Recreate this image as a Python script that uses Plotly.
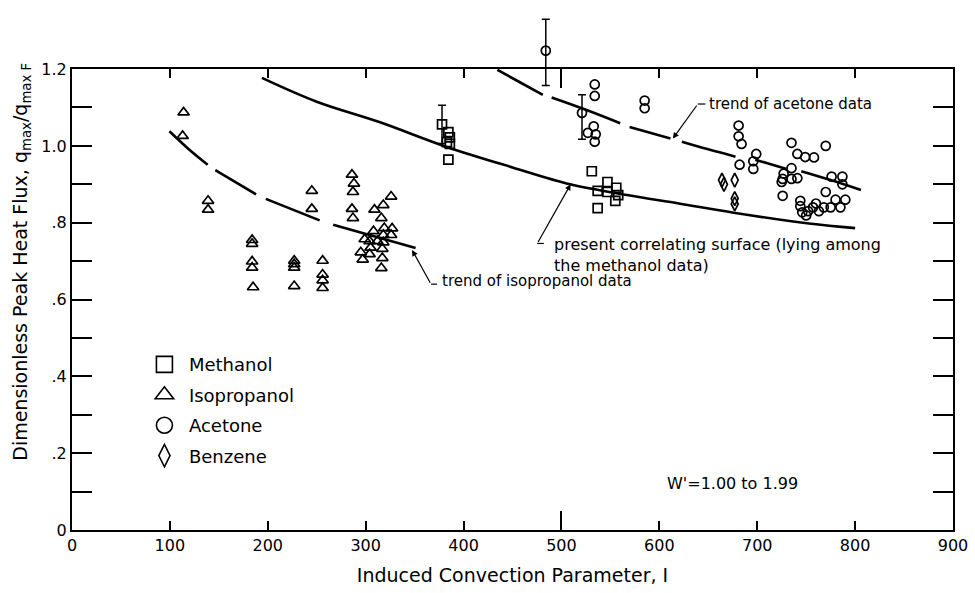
import plotly.graph_objects as go

# ---------------- data ----------------
meth_x = [378, 384.5, 386, 386, 384.5, 383, 531, 547, 537, 556, 547, 558, 555, 537]
meth_y = [1.056, 1.036, 1.022, 1.005, 0.964, 1.010, 0.934, 0.906, 0.883, 0.891, 0.880, 0.872, 0.857, 0.838]

iso_x = [114, 113, 139, 139, 184, 184, 184, 184, 185, 227, 227, 227, 227, 256, 256, 256, 256,
         245, 245, 286, 288, 287, 286, 287,
         326, 318, 309, 316, 327, 308, 319, 318, 326, 299, 304, 312, 318, 305, 317, 295, 304, 297, 317, 316]
iso_y = [1.087, 1.026, 0.857, 0.834, 0.755, 0.745, 0.699, 0.683, 0.632, 0.701, 0.692, 0.683, 0.635,
         0.701, 0.665, 0.650, 0.630,
         0.883, 0.836, 0.925, 0.902, 0.880, 0.836, 0.812,
         0.868, 0.846, 0.834, 0.812, 0.785, 0.778, 0.786, 0.768, 0.768, 0.757, 0.752, 0.752, 0.749,
         0.735, 0.732, 0.723, 0.718, 0.704, 0.708, 0.682]

ace_x = [484, 534, 534, 521, 533, 527, 535, 534, 585, 585, 681, 681, 684, 682, 699, 696, 696,
         735, 741, 749, 735, 727, 726, 735, 741, 725, 726, 744, 744, 746, 750,
         758, 770, 776, 787, 787, 770, 780, 790, 757, 763, 768, 775, 785, 752, 760]
ace_y = [1.248, 1.160, 1.130, 1.086, 1.051, 1.034, 1.030, 1.011, 1.118, 1.098, 1.053, 1.025, 1.005,
         0.951, 0.979, 0.960, 0.940,
         1.008, 0.979, 0.971, 0.942, 0.928, 0.914, 0.914, 0.916, 0.906, 0.870, 0.857, 0.843, 0.827, 0.819,
         0.970, 1.000, 0.920, 0.920, 0.900, 0.880, 0.860, 0.860, 0.840, 0.830, 0.840, 0.840, 0.840,
         0.830, 0.850]

benz_x = [664, 666, 677, 677, 677]
benz_y = [0.911, 0.900, 0.911, 0.863, 0.849]

# points carrying error bars
err_x = [378, 484, 521]
err_y = [1.056, 1.248, 1.086]
err_up = [0.050, 0.082, 0.047]
err_down = [0.050, 0.091, 0.069]

# present correlating surface (solid)
corr_x = [194, 250, 314, 382, 450, 509, 567, 620, 676, 753, 800]
corr_y = [1.177, 1.115, 1.062, 0.998, 0.944, 0.900, 0.872, 0.850, 0.826, 0.798, 0.786]

# trend of acetone data (broken line)
acet_x = [434.6, 458, 481, None, 490, 525, 560, None, 569.6, 611.4, None,
          623, 650, 677.8, None, 698, 730, None, 745, 775, 806]
acet_y = [1.198, 1.165, 1.133, None, 1.126, 1.094, 1.059, None, 1.049, 1.019, None,
          1.011, 0.991, 0.972, None, 0.964, 0.940, None, 0.934, 0.911, 0.885]

# trend of isopropanol data (broken line)
isot_x = [99.5, 119, 138.6, None, 146.4, 188, None, 198, 253, None, 266.8, 351]
isot_y = [1.038, 0.992, 0.951, None, 0.937, 0.874, None, 0.862, 0.806, None, 0.795, 0.734]

x_ticks = [0, 100, 200, 300, 400, 500, 600, 700, 800, 900]
y_ticks = [0, 0.2, 0.4, 0.6, 0.8, 1.0, 1.2]
y_ticktext = ["0", ".2", ".4", ".6", ".8", "1.0", "1.2"]
y_minor = [0.1, 0.3, 0.5, 0.7, 0.9, 1.1]

FONT = "DejaVu Sans"
BLACK = "black"

# geometry (pixels): frame top 61, bottom 530; headroom up to 7 for the point above the frame
TOP_EXTRA = 7
PLOT_TOP = 61
PLOT_BOT = 530
H_ALL = PLOT_BOT - TOP_EXTRA
H_MAIN = PLOT_BOT - PLOT_TOP
Y_MAX = 1.2
Y2_MAX = Y_MAX * H_ALL / H_MAIN


def py_paper(px):
    return (PLOT_BOT - px) / H_ALL


fig = go.Figure()

line_style = dict(color=BLACK, width=2.6)
fig.add_trace(go.Scatter(x=corr_x, y=corr_y, mode="lines", line=dict(shape="spline", **line_style),
                         showlegend=False, hoverinfo="skip"))
fig.add_trace(go.Scatter(x=acet_x, y=acet_y, mode="lines", line=dict(shape="spline", **line_style),
                         connectgaps=False, showlegend=False, hoverinfo="skip"))
# (x2 / x3 are overlaid copies of the x axis carrying the top frame and the long 500 tick)
fig.add_trace(go.Scatter(x=isot_x, y=isot_y, mode="lines", line=dict(shape="spline", **line_style),
                         connectgaps=False, showlegend=False, hoverinfo="skip", xaxis="x2"))


def mk(symbol, size):
    return dict(symbol=symbol, size=size, color=BLACK, line=dict(color=BLACK, width=1.7))


fig.add_trace(go.Scatter(x=meth_x, y=meth_y, mode="markers", marker=mk("square-open", 9),
                         showlegend=False, cliponaxis=False))
fig.add_trace(go.Scatter(x=iso_x, y=iso_y, mode="markers", marker=mk("triangle-up-open", 10),
                         showlegend=False, cliponaxis=False))
fig.add_trace(go.Scatter(x=ace_x, y=ace_y, mode="markers", marker=mk("circle-open", 9),
                         showlegend=False, cliponaxis=False, yaxis="y2"))
fig.add_trace(go.Scatter(x=benz_x, y=benz_y, mode="markers", marker=mk("diamond-tall-open", 10),
                         showlegend=False, cliponaxis=False, xaxis="x3"))

fig.add_trace(go.Scatter(x=err_x, y=err_y, mode="markers", yaxis="y2",
                         marker=dict(size=2, color="rgba(0,0,0,0)"),
                         error_y=dict(type="data", symmetric=False, array=err_up, arrayminus=err_down,
                                      color=BLACK, thickness=1.5, width=4),
                         showlegend=False, cliponaxis=False, hoverinfo="skip"))

for name, sym in [("Methanol", "square-open"), ("Isopropanol", "triangle-up-open"),
                  ("Acetone", "circle-open"), ("Benzene", "diamond-tall-open")]:
    fig.add_trace(go.Scatter(x=[None], y=[None], mode="markers", name=name, legendgroup=name,
                             marker=dict(symbol=sym, size=16, color=BLACK,
                                         line=dict(color=BLACK, width=1.6))))

ann_font = dict(family=FONT, size=15, color=BLACK)
arrow = dict(showarrow=True, arrowhead=2, arrowsize=1, arrowwidth=1.2, arrowcolor=BLACK, text="",
             xref="x", yref="y", axref="x", ayref="y")
annotations = [
    dict(x=648.5, y=1.109, xref="x", yref="y", text="trend of acetone data", showarrow=False,
         xanchor="left", yanchor="middle", font=ann_font),
    dict(x=613.8, y=1.019, ax=639.3, ay=1.109, **arrow),
    dict(x=490.3, y=0.773, xref="x", yref="y",
         text="present correlating surface (lying among<br>the methanol data)", showarrow=False,
         xanchor="left", yanchor="top", align="left", font=dict(family=FONT, size=16, color=BLACK)),
    dict(x=509.4, y=0.900, ax=475.3, ay=0.746, **arrow),
    dict(x=376, y=0.647, xref="x", yref="y", text="trend of isopropanol data", showarrow=False,
         xanchor="left", yanchor="middle", font=ann_font),
    dict(x=347.4, y=0.729, ax=366.8, ay=0.640, **arrow),
    dict(x=675, y=0.12, xref="x", yref="y", text="W'=1.00 to 1.99", showarrow=False,
         xanchor="center", yanchor="middle", font=dict(family=FONT, size=16, color=BLACK)),
    dict(x=(22 - 72) / 882, y=py_paper(257), xref="paper", yref="paper", textangle=-90,
         text="Dimensionless Peak Heat Flux, q<sub>max</sub>/q<sub>max F</sub>", showarrow=False,
         xanchor="center", yanchor="middle", font=dict(family=FONT, size=19, color=BLACK)),
]

shapes = [
    dict(type="line", xref="x", yref="y", x0=639.3, y0=1.109, x1=647, y1=1.109,
         line=dict(color=BLACK, width=1.2)),
    dict(type="line", xref="x", yref="y", x0=475.3, y0=0.746, x1=482, y1=0.746,
         line=dict(color=BLACK, width=1.2)),
    dict(type="line", xref="x", yref="y", x0=366.8, y0=0.640, x1=372.9, y1=0.640,
         line=dict(color=BLACK, width=1.2)),
]

axis_common = dict(range=[0, 900], showgrid=False, zeroline=False, tickcolor=BLACK, tickwidth=1.5)

fig.update_layout(
    width=975, height=593,
    margin=dict(l=72, r=21, t=TOP_EXTRA, b=63),
    paper_bgcolor="white", plot_bgcolor="rgba(0,0,0,0)",
    font=dict(family=FONT, size=16, color=BLACK),
    showlegend=True,
    legend=dict(x=(140 - 72) / 882, y=py_paper(343), xanchor="left", yanchor="top",
                bgcolor="rgba(0,0,0,0)", borderwidth=0, itemwidth=39, tracegroupgap=4,
                font=dict(family=FONT, size=18, color=BLACK)),
    # bottom axis with labels
    xaxis=dict(tickvals=x_ticks, ticks="inside", ticklen=9, showline=True, linewidth=2,
               linecolor=BLACK, mirror=False, anchor="y", tickfont=dict(family=FONT, size=16),
               title=dict(text="Induced Convection Parameter, I", font=dict(family=FONT, size=19),
                          standoff=14), **axis_common),
    # top frame with ticks
    xaxis2=dict(overlaying="x", anchor="y", side="top", tickvals=x_ticks, ticks="inside", ticklen=9,
                showticklabels=False, showline=True, linewidth=2, linecolor=BLACK, **axis_common),
    # longer tick at 500, bottom and top
    xaxis3=dict(overlaying="x", anchor="y", side="bottom", tickvals=[500], ticks="inside", ticklen=19,
                mirror="allticks", showticklabels=False, showline=False, **axis_common),
    yaxis=dict(range=[0, Y_MAX], domain=[0, H_MAIN / H_ALL], anchor="x",
               tickvals=y_ticks, ticktext=y_ticktext, ticks="inside", ticklen=20,
               tickwidth=1.5, tickcolor=BLACK, showline=True, linewidth=2, linecolor=BLACK,
               mirror="allticks", showgrid=False, zeroline=False,
               tickfont=dict(family=FONT, size=16),
               minor=dict(tickvals=y_minor, ticks="inside", ticklen=13, tickwidth=1.5, tickcolor=BLACK,
                          showgrid=False)),
    yaxis2=dict(range=[0, Y2_MAX], domain=[0, 1], anchor="x", visible=False,
                showgrid=False, zeroline=False),
    annotations=annotations,
    shapes=shapes,
)

fig.write_html("out.html")
